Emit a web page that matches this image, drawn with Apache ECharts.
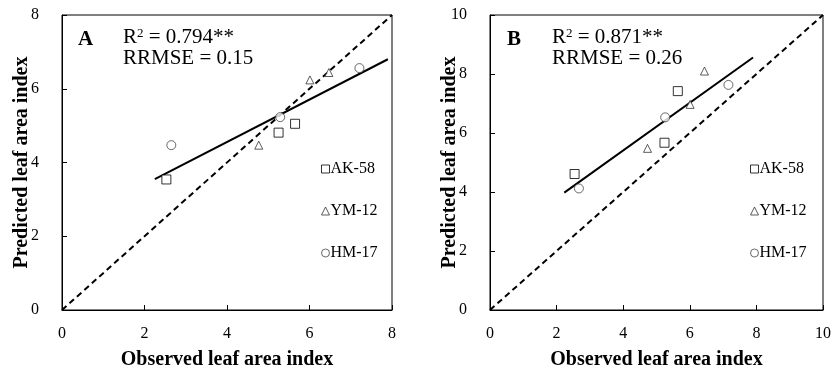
<!DOCTYPE html>
<html>
<head>
<meta charset="utf-8">
<script src="https://cdn.jsdelivr.net/npm/echarts@6/dist/echarts.min.js"></script>
<style>
  html, body { margin: 0; padding: 0; background: #fff; }
  #chart { width: 831px; height: 370px; }
</style>
</head>
<body>
<div id="chart"></div>
<script>
// panel A (observed, predicted)
const akA = [[2.53, 3.54], [5.25, 4.81], [5.65, 5.05]];
const ymA = [[4.77, 4.47], [6.01, 6.24], [6.47, 6.44]];
const hmA = [[2.65, 4.47], [5.29, 5.23], [7.21, 6.56]];
const fitA = [[2.25, 3.55], [7.9, 6.8]];
const oneA = [[0, 0], [8, 8]];

// panel B
const akB = [[2.54, 4.61], [5.24, 5.67], [5.64, 7.42]];
const ymB = [[4.73, 5.48], [6.01, 6.97], [6.44, 8.1]];
const hmB = [[2.67, 4.12], [5.26, 6.53], [7.16, 7.63]];
const fitB = [[2.23, 3.98], [7.9, 8.56]];
const oneB = [[0, 0], [10, 10]];

const cultivars = ['AK-58', 'YM-12', 'HM-17'];
const statsA = { r2: '0.794**', rrmse: '0.15' };
const statsB = { r2: '0.871**', rrmse: '0.26' };

const FONT = 'Liberation Serif';
const chart = echarts.init(document.getElementById('chart'));

function axisX(idx, max) {
  return {
    gridIndex: idx, type: 'value', min: 0, max: max, interval: 2,
    name: 'Observed leaf area index', nameLocation: 'middle', nameGap: 40,
    nameMoveOverlap: false,
    nameTextStyle: { fontFamily: FONT, fontWeight: 'bold', fontSize: 20, color: '#000' },
    axisLine: { lineStyle: { color: '#000', width: 1 } },
    axisTick: { inside: true, length: 5, lineStyle: { color: '#000' } },
    axisLabel: { fontFamily: FONT, fontSize: 16, color: '#000', margin: 16 },
    splitLine: { show: false }
  };
}
function axisY(idx, max) {
  return {
    gridIndex: idx, type: 'value', min: 0, max: max, interval: 2,
    name: 'Predicted leaf area index', nameLocation: 'middle', nameGap: 30,
    nameMoveOverlap: false,
    nameTextStyle: { fontFamily: FONT, fontWeight: 'bold', fontSize: 20, color: '#000' },
    axisLine: { lineStyle: { color: '#000', width: 1 } },
    axisTick: { inside: true, length: 5, lineStyle: { color: '#000' } },
    axisLabel: { fontFamily: FONT, fontSize: 16, color: '#000', margin: 23 },
    splitLine: { show: false }
  };
}

const sym = { 'AK-58': 'rect', 'YM-12': 'triangle', 'HM-17': 'circle' };
const symSize = { 'AK-58': 9, 'YM-12': 8, 'HM-17': 9 };
const symColor = { 'AK-58': '#000', 'YM-12': '#333', 'HM-17': '#444' };

function pts(name, data, idx) {
  return {
    name: name, type: 'scatter', xAxisIndex: idx, yAxisIndex: idx, data: data,
    symbol: sym[name], symbolSize: symSize[name],
    itemStyle: { color: '#fff', borderColor: symColor[name], borderWidth: 1 },
    z: 5
  };
}
function line(data, idx, dashed) {
  return {
    type: 'line', xAxisIndex: idx, yAxisIndex: idx, data: data, symbol: 'none',
    lineStyle: { color: '#000', width: 2, type: dashed ? [6, 4] : 'solid' },
    silent: true, z: 3
  };
}
function legend(left) {
  return {
    orient: 'vertical', left: left, top: 156, itemGap: 26,
    itemWidth: 8, itemHeight: 8, data: cultivars, selectedMode: false,
    itemStyle: { borderWidth: 1 },
    textStyle: { fontFamily: FONT, fontSize: 16, color: '#000', padding: [0, 0, 0, -4] }
  };
}
function statsText(x, label, s) {
  return [
    { type: 'text', left: x - 45, top: 29,
      style: { text: label, fontFamily: FONT, fontWeight: 'bold', fontSize: 21, fill: '#000' } },
    { type: 'text', left: x, top: 27,
      style: {
        text: '{a|R}{s|2}{a| = ' + s.r2 + '}',
        rich: {
          a: { fontFamily: FONT, fontSize: 21, fill: '#000', verticalAlign: 'bottom' },
          s: { fontFamily: FONT, fontSize: 13, fill: '#000', verticalAlign: 'top', padding: [0, 0, 8, 0] }
        }
      } },
    { type: 'text', left: x, top: 48,
      style: { text: 'RRMSE = ' + s.rrmse, fontFamily: FONT, fontSize: 21, fill: '#000' } }
  ];
}

chart.setOption({
  animation: false,
  grid: [
    { left: 62, top: 15, width: 330, height: 295, show: true, borderColor: '#000', borderWidth: 1,
      outerBoundsMode: 'none' },
    { left: 490, top: 15, width: 333, height: 295, show: true, borderColor: '#000', borderWidth: 1,
      outerBoundsMode: 'none' }
  ],
  xAxis: [axisX(0, 8), axisX(1, 10)],
  yAxis: [axisY(0, 8), axisY(1, 10)],
  legend: [legend(316), legend(745)],
  graphic: statsText(123, 'A', statsA).concat(statsText(552, 'B', statsB)),
  series: [
    line(oneA, 0, true), line(fitA, 0, false),
    pts('AK-58', akA, 0), pts('YM-12', ymA, 0), pts('HM-17', hmA, 0),
    line(oneB, 1, true), line(fitB, 1, false),
    pts('AK-58', akB, 1), pts('YM-12', ymB, 1), pts('HM-17', hmB, 1)
  ]
});
</script>
</body>
</html>
